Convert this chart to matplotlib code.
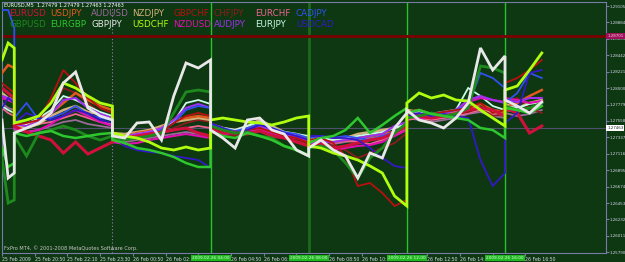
import numpy as np
import matplotlib.pyplot as plt

# bar index (5-minute bars from 25 Feb 2009 19:30); repeated bars = indicator reset
bars = [0, 3, 6, 6, 12, 18, 24, 30, 36, 42, 48, 54, 54, 60, 66, 72, 78, 84, 90, 96, 102,
        102, 108, 114, 120, 126, 132, 138, 144, 150, 150, 156, 162, 168, 174, 180, 186, 192, 198,
        198, 204, 210, 216, 222, 228, 234, 240, 246, 246, 252, 258, 264]

# indicator deviation from the bid line, in indicator points
eurusd = [40, 35, 30, 2, -4, -8, -12, -25, -14, -26, -20, -14, -12, -10, -8, -6, -4, -2, 0, -5, -8,
          -2, -5, -4, -6, -3, -8, -10, -14, -18, -18, -16, -20, -18, -15, -12, -10, -5, 2,
          14, 12, 10, 12, 14, 18, 20, 18, 12, 20, 15, -5, 2]
usdjpy = [55, 63, 60, 5, 3, 8, 15, 25, 35, 28, 22, 18, -6, -8, -5, -3, 0, 8, 10, 12, 10,
          2, -2, -4, 0, 3, -2, -6, -8, -12, -15, -12, -14, -12, -10, -8, -6, -4, 2,
          16, 18, 14, 15, 16, 20, 24, 18, 16, 20, 25, 32, 38]
audusd = [25, 20, 18, -2, -4, -2, 2, 6, 8, 4, 2, 0, -12, -14, -12, -10, -8, -6, -4, -6, -8,
          -2, -4, -6, -4, -2, -6, -8, -10, -12, -18, -15, -16, -14, -12, -10, -8, -4, 0,
          10, 8, 6, 8, 10, 14, 16, 12, 10, 15, 12, 14, 18]
nzdjpy = [35, 30, 28, 2, 0, 4, 12, 18, 22, 16, 14, 10, -5, -6, -4, -2, 2, 6, 8, 10, 8,
          4, 0, -2, 2, 8, 2, -4, -6, -10, -12, -10, -12, -10, -6, -4, -2, 0, 4,
          18, 16, 14, 16, 18, 22, 20, 16, 14, 24, 20, 25, 28]
gbpchf = [45, 40, 35, 3, 5, 8, 30, 58, 45, 30, 20, 15, -8, -10, -8, -6, -4, 5, 12, 15, 12,
          0, -4, -6, -2, 0, -4, -8, -10, -15, -12, -10, -15, -28, -58, -55, -65, -78, -72,
          15, 18, 14, 16, 18, 20, 25, 15, 18, 45, 50, 58, 68]
chfjpy = [30, 28, 25, 0, 2, 4, 18, 40, 35, 25, 15, 10, -10, -12, -10, -8, -6, 0, 5, 8, 6,
          -4, -6, -8, -5, -3, -6, -10, -12, -16, -14, -12, -18, -22, -30, -25, -20, -15, -5,
          10, 12, 10, 12, 14, 16, 20, 12, 14, 25, 30, 20, 15]
eurchf = [20, 15, 12, 0, 2, 4, 6, 10, 14, 10, 6, 4, -8, -10, -8, -6, -5, -2, 0, 2, 0,
          0, -2, -3, -1, 2, -2, -5, -7, -9, -16, -14, -15, -13, -14, -16, -12, -6, -2,
          8, 10, 8, 10, 12, 15, 18, 14, 12, 18, 16, 20, 22]
cadjpy = [118, 118, 100, 10, 25, 8, 10, 15, 22, 14, 10, 8, -10, -12, -8, -6, -2, 5, 18, 22, 20,
          3, 0, -3, 0, 4, 0, -4, -6, -10, -10, -8, -10, -8, -10, -12, -8, -4, 2,
          15, 18, 14, 16, 18, 22, 55, 50, 40, 25, 35, 55, 50]
gbpusd = [-30, -75, -72, -8, -28, -5, -2, 2, -2, -8, -12, -8, -10, -12, -10, -8, -5, 15, 36, 38, 36,
          2, -2, -5, -4, -8, -10, -18, -22, -27, -20, -18, -22, -35, -50, -30, -20, -5, 5,
          10, 12, 15, 12, 14, 20, 62, 60, 55, 22, 18, 20, 25]
eurgbp = [-20, -39, -35, -5, -8, -5, -3, -8, -10, -8, -6, -5, -12, -15, -20, -22, -25, -29, -35, -39, -39,
          -3, -8, -10, -5, -8, -12, -18, -22, -28, -15, -10, -8, -2, 10, -5, 3, 12, 20,
          15, 18, 14, 12, 10, 8, 0, -2, -10, 20, 18, 15, 22]
gbpjpy = [8, -50, -45, -5, 0, 5, 15, 45, 56, 20, 12, 8, -8, -10, 5, 6, -12, 32, 65, 60, 68,
          -2, -10, -20, 8, 10, -2, -6, -22, -28, -20, -12, -22, -28, -50, -25, -30, 0, 15,
          18, 8, 5, 0, 10, 25, 80, 58, 72, 28, 22, 15, 26]
usdchf = [68, 85, 80, 5, 8, 12, 25, 45, 40, 32, 25, 22, -5, -8, -10, -14, -20, -22, -19, -22, -20,
          8, 10, 8, 6, 5, 3, 6, 10, 12, -18, -20, -25, -28, -32, -38, -45, -68, -78,
          25, 35, 30, 33, 28, 27, 18, 10, 2, 38, 42, 58, 75]
nzdusd = [30, 28, 25, 0, -4, -2, 4, 12, 18, 12, 6, 2, -14, -16, -15, -12, -10, -8, -6, -8, -10,
          -4, -6, -5, -3, -1, -5, -8, -10, -13, -20, -18, -22, -20, -18, -17, -14, -8, -2,
          12, 10, 10, 12, 14, 26, 30, 28, 26, 30, 28, 25, 27]
audjpy = [32, 30, 28, 4, 2, 6, 14, 28, 30, 20, 14, 10, -6, -8, -6, -4, 0, 8, 20, 24, 20,
          2, -2, -4, -2, 2, -2, -6, -8, -12, -16, -14, -14, -12, -10, -8, -6, 2, 6,
          16, 14, 12, 14, 18, 28, 32, 28, 25, 28, 26, 30, 30]
eurjpy = [22, 18, 15, 2, 4, 10, 18, 32, 28, 22, 16, 12, -6, -8, -6, -4, 0, 6, 25, 28, 24,
          4, 0, -2, 2, 6, 0, -4, -6, -8, -12, -10, -12, -10, -8, -6, -4, 0, 4,
          14, 16, 12, 14, 18, 40, 32, 22, 18, 22, 20, 24, 26]
usdcad = [20, 30, 25, 5, 15, 10, 8, 12, 18, 15, 8, 5, -8, -18, -22, -24, -25, -28, -30, -32, -40,
          5, 0, -5, -2, 3, 0, -5, -8, -12, -8, -8, -10, -10, -12, -20, -30, -38, -40,
          12, 15, 12, 14, 12, 10, -32, -58, -45, 5, 15, 55, 58]

bid = 1.27463
level = 1.28701
point = (1.29105 - bid) / 122  # price per indicator point

y_ticks = [1.29105, 1.28884, 1.28663, 1.28442, 1.28221, 1.28000, 1.27779, 1.27558,
           1.27337, 1.27116, 1.26895, 1.26674, 1.26453, 1.26232, 1.26011, 1.25790]
x_ticks = [0, 16, 32, 48, 64, 80, 96, 112, 128, 144, 160, 176, 192, 208, 224, 240, 256]
x_labels = ["25 Feb 2009", "25 Feb 20:50", "25 Feb 22:10", "25 Feb 23:30", "26 Feb 00:50",
            "26 Feb 02:10", "", "26 Feb 04:50", "26 Feb 06:10", "",
            "26 Feb 08:50", "26 Feb 10:10", "", "26 Feb 12:50", "26 Feb 14:10",
            "", "26 Feb 16:50"]
v_bars = [102, 150, 198, 246]
v_labels = ["2009.02.26 04:00", "2009.02.26 08:00", "2009.02.26 12:00", "2009.02.26 16:00"]

series = {
    "EURUSD": eurusd, "USDJPY": usdjpy, "AUDUSD": audusd, "NZDJPY": nzdjpy,
    "GBPCHF": gbpchf, "CHFJPY": chfjpy, "EURCHF": eurchf, "CADJPY": cadjpy,
    "GBPUSD": gbpusd, "EURGBP": eurgbp, "GBPJPY": gbpjpy, "USDCHF": usdchf,
    "NZDUSD": nzdusd, "AUDJPY": audjpy, "EURJPY": eurjpy, "USDCAD": usdcad,
}
colors = {
    "EURUSD": "#d0103c", "USDJPY": "#e05a1e", "AUDUSD": "#9a6a9a", "NZDJPY": "#d2b078",
    "GBPCHF": "#b81010", "CHFJPY": "#8c1c1c", "EURCHF": "#f06494", "CADJPY": "#3050f0",
    "GBPUSD": "#1e8a1e", "EURGBP": "#2ec82e", "GBPJPY": "#e8e8e8", "USDCHF": "#b0ff10",
    "NZDUSD": "#e010b0", "AUDJPY": "#a030f0", "EURJPY": "#c8fbe8", "USDCAD": "#3418c8",
}
widths = {"EURUSD": 2.2, "GBPJPY": 2.0, "USDCHF": 2.0, "GBPUSD": 2.0, "EURGBP": 1.8,
          "USDJPY": 1.8, "NZDJPY": 1.8, "NZDUSD": 1.5, "AUDJPY": 1.5}
draw_order = ["AUDUSD", "EURCHF", "CHFJPY", "NZDJPY", "USDJPY", "EURJPY", "NZDUSD", "AUDJPY",
              "CADJPY", "GBPCHF", "EURUSD", "USDCAD", "GBPUSD", "EURGBP", "USDCHF", "GBPJPY"]

BG = "#0d3812"
AXC = "#7a7aa8"
TXT = "#d8d8e8"
W, H = 625, 262

fig = plt.figure(figsize=(W / 100, H / 100), dpi=100, facecolor=BG)
ax = fig.add_axes([2 / W, 1 - 253 / H, 604 / W, 251 / H])
ax.set_facecolor(BG)
ax.set_xlim(0.44, 295.4)
ax.set_ylim(bid - 125 * point, bid + 126 * point)

# grid / separator lines
ax.axvline(54, color="#9a7ab8", lw=0.8, ls=(0, (1, 2)), zorder=1)
for b in v_bars:
    c, lw = ("#1c6a1c", 2.0) if b == 150 else ("#2cc02c", 1.0)
    ax.axvline(b, color=c, lw=lw, zorder=1)
ax.axhline(level, color="#7a0000", lw=2, zorder=1)
ax.axhline(bid, color="#50506e", lw=0.8, zorder=1)

x = np.array(bars)
for name in draw_order:
    y = bid + np.array(series[name]) * point
    ax.plot(x, y, color=colors[name], lw=widths.get(name, 1.3), zorder=3,
            solid_joinstyle="miter")

for s in ax.spines.values():
    s.set_color(AXC)
    s.set_linewidth(0.8)

ax.yaxis.tick_right()
ax.set_yticks(y_ticks)
ax.set_yticklabels([f"{v:.5f}" for v in y_ticks])
ax.tick_params(axis="y", colors=AXC, labelcolor=TXT, labelsize=2.9, length=2, pad=0.5)
ax.set_xticks(x_ticks)
ax.set_xticklabels(x_labels)
ax.tick_params(axis="x", colors=AXC, labelcolor=TXT, labelsize=3.3, length=2, pad=0.8)
for lab in ax.get_xticklabels():
    lab.set_ha("left")

# green time boxes for the vertical lines
for b, t in zip(v_bars, v_labels):
    ax.text(b, -0.012, t, transform=ax.get_xaxis_transform(), ha="center", va="top",
            fontsize=3.1, color="#d8ffd8", zorder=5,
            bbox=dict(boxstyle="square,pad=0.3", fc="#22b822", ec="none"))

# price boxes on the right scale
ax.text(1.002, level, f"{level:.5f}", transform=ax.get_yaxis_transform(), ha="left",
        va="center", fontsize=2.9, color="#f0d0e0", clip_on=False, zorder=6,
        bbox=dict(boxstyle="square,pad=0.3", fc="#a0105a", ec="none"))
ax.text(1.002, bid, f"{bid:.5f}", transform=ax.get_yaxis_transform(), ha="left",
        va="center", fontsize=2.9, color="#202020", clip_on=False, zorder=6,
        bbox=dict(boxstyle="square,pad=0.25", fc="white", ec="none"))

# header, legend names, footer
fig.text(4 / W, 1 - 5 / H, "EURUSD,M5  1.27479 1.27479 1.27463 1.27463",
         fontsize=3.6, color="white", va="center")
row1 = ["EURUSD", "USDJPY", "AUDUSD", "NZDJPY", "GBPCHF", "CHFJPY", "EURCHF", "CADJPY"]
row2 = ["GBPUSD", "EURGBP", "GBPJPY", "USDCHF", "NZDUSD", "AUDJPY", "EURJPY", "USDCAD"]
for row, yp in ((row1, 14), (row2, 24.5)):
    for i, name in enumerate(row):
        fig.text((9 + 41 * i) / W, 1 - yp / H, name, fontsize=6.3, color=colors[name],
                 va="center", ha="left")
fig.text(4 / W, 1 - 248 / H, "FxPro MT4, \u00a9 2001-2008 MetaQuotes Software Corp.",
         fontsize=3.6, color="#c8c8c8", va="center")

fig.savefig("out.png", dpi=100, facecolor=BG)
